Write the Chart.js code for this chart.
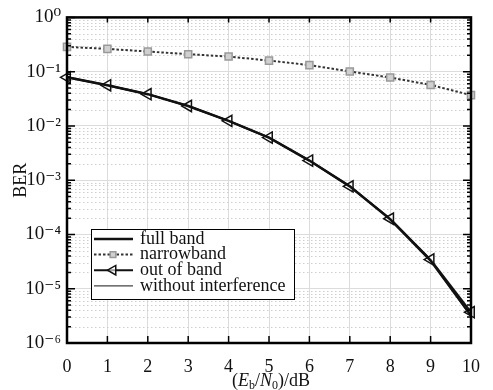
<!DOCTYPE html>
<html>
<head>
<meta charset="utf-8">
<script src="https://cdn.jsdelivr.net/npm/chart.js@4.4.1/dist/chart.umd.min.js"></script>
<style>
  html, body { margin: 0; padding: 0; background: #fff; }
  #wrap { width: 493px; height: 390px; }
</style>
</head>
<body>
<div id="wrap"><canvas id="ber"></canvas></div>
<script>
// data
var ebn0 = [0, 1, 2, 3, 4, 5, 6, 7, 8, 9, 10];
var fullBand = [0.079, 0.056, 0.0385, 0.0233, 0.0124, 0.0061, 0.0023, 0.00077, 0.00019, 3.3e-5, 3.2e-6];
var narrowband = [0.286, 0.263, 0.235, 0.21, 0.19, 0.16, 0.132, 0.101, 0.078, 0.057, 0.037];
var outOfBand = [0.0787, 0.056, 0.0385, 0.0233, 0.0124, 0.0061, 0.0023, 0.00077, 0.000195, 3.45e-5, 3.7e-6];
var noInterf = [0.079, 0.056, 0.0385, 0.0233, 0.0124, 0.0061, 0.0023, 0.00077, 0.00019, 3.3e-5, 3.1e-6];
var seriesNames = ['full band', 'narrowband', 'out of band', 'without interference'];
var decadeLabels = ['10\u207B\u2076', '10\u207B\u2075', '10\u207B\u2074', '10\u207B\u00B3', '10\u207B\u00B2', '10\u207B\u00B9', '10\u2070'];

var serif = "'Liberation Serif', 'DejaVu Serif', serif";

function pts(ys) {
  var out = [];
  for (var i = 0; i < ebn0.length; i++) out.push({ x: ebn0[i], y: ys[i] });
  return out;
}

function isDecade(v) {
  var l = Math.log10(v);
  return Math.abs(l - Math.round(l)) < 1e-6;
}

// minor dotted grid, inward ticks, frame
var framePlugin = {
  id: 'frame',
  beforeDatasetsDraw: function(chart) {
    var ctx = chart.ctx, a = chart.chartArea, y = chart.scales.y;
    ctx.save();
    ctx.strokeStyle = '#cfcfcf';
    ctx.lineWidth = 1;
    ctx.setLineDash([1.5, 2.5]);
    for (var e = -6; e < 0; e++) {
      for (var m = 2; m <= 9; m++) {
        var py = Math.round(y.getPixelForValue(m * Math.pow(10, e))) + 0.5;
        ctx.beginPath();
        ctx.moveTo(a.left, py);
        ctx.lineTo(a.right, py);
        ctx.stroke();
      }
    }
    ctx.restore();
  },
  afterDatasetsDraw: function(chart) {
    var ctx = chart.ctx, a = chart.chartArea, x = chart.scales.x, y = chart.scales.y;
    ctx.save();
    ctx.strokeStyle = '#000';
    ctx.lineWidth = 1.5;
    ctx.beginPath();
    for (var i = 1; i < 10; i++) {
      var px = x.getPixelForValue(i);
      ctx.moveTo(px, a.bottom); ctx.lineTo(px, a.bottom - 7);
      ctx.moveTo(px, a.top); ctx.lineTo(px, a.top + 5);
    }
    for (var e = -6; e <= 0; e++) {
      for (var m = 1; m <= 9; m++) {
        var v = m * Math.pow(10, e);
        if (v > 1) break;
        var py = y.getPixelForValue(v);
        var len = m === 1 ? 8 : 4;
        ctx.moveTo(a.left, py); ctx.lineTo(a.left + len, py);
        ctx.moveTo(a.right, py); ctx.lineTo(a.right - len, py);
      }
    }
    ctx.stroke();
    ctx.lineWidth = 2.5;
    ctx.strokeRect(a.left, a.top, a.right - a.left, a.bottom - a.top);
    ctx.restore();
  }
};

// legend box drawn inside the plot, like the figure
var legendPlugin = {
  id: 'boxLegend',
  afterDraw: function(chart) {
    var ctx = chart.ctx;
    var bx = 91, by = 229, bw = 203, bh = 70;
    ctx.save();
    ctx.fillStyle = '#fff';
    ctx.fillRect(bx, by, bw, bh);
    ctx.strokeStyle = '#000';
    ctx.lineWidth = 1;
    ctx.strokeRect(bx + 0.5, by + 0.5, bw, bh);
    ctx.font = '18px ' + serif;
    ctx.textBaseline = 'middle';
    chart.data.datasets.forEach(function(ds, i) {
      var cy = by + 10 + i * 15.6;
      ctx.strokeStyle = ds.borderColor;
      ctx.lineWidth = ds.borderWidth;
      ctx.setLineDash(ds.borderDash || []);
      ctx.beginPath();
      ctx.moveTo(bx + 3, cy); ctx.lineTo(bx + 42, cy);
      ctx.stroke();
      ctx.setLineDash([]);
      if (ds.pointRadius > 0) {
        ctx.fillStyle = ds.pointBackgroundColor;
        ctx.strokeStyle = ds.pointBorderColor;
        ctx.lineWidth = ds.pointBorderWidth;
        Chart.helpers.drawPoint(ctx, {
          pointStyle: ds.pointStyle, rotation: ds.pointRotation || 0,
          radius: ds.pointRadius - 1, borderWidth: ds.pointBorderWidth
        }, bx + 22, cy);
      }
      ctx.fillStyle = '#111';
      ctx.fillText(ds.label, bx + 49, cy);
    });
    ctx.restore();
  }
};

// x axis title with italic letters and subscripts
var xTitlePlugin = {
  id: 'xTitle',
  afterDraw: function(chart) {
    var ctx = chart.ctx, a = chart.chartArea;
    var parts = [
      ['(', 'normal', 18, 0], ['E', 'italic', 18, 0], ['b', 'normal', 12, 3],
      ['/', 'normal', 18, 0], ['N', 'italic', 18, 0], ['0', 'normal', 12, 3],
      [')/dB', 'normal', 18, 0]
    ];
    ctx.save();
    ctx.fillStyle = '#111';
    ctx.textBaseline = 'alphabetic';
    var w = 0;
    parts.forEach(function(p) {
      ctx.font = p[1] + ' ' + p[2] + 'px ' + serif;
      w += ctx.measureText(p[0]).width;
    });
    var x0 = (a.left + a.right) / 2 - w / 2 + 2;
    var base = 386;
    parts.forEach(function(p) {
      ctx.font = p[1] + ' ' + p[2] + 'px ' + serif;
      ctx.fillText(p[0], x0, base + p[3]);
      x0 += ctx.measureText(p[0]).width;
    });
    ctx.restore();
  }
};

var chart = new Chart(document.getElementById('ber'), {
  type: 'line',
  data: {
    datasets: [{
      label: seriesNames[0],
      data: pts(fullBand),
      borderColor: '#111',
      borderWidth: 2.5,
      pointRadius: 0,
      clip: false
    }, {
      label: seriesNames[1],
      data: pts(narrowband),
      borderColor: '#333',
      borderWidth: 2,
      borderDash: [2.5, 2],
      pointStyle: 'rect',
      pointRadius: 5,
      pointBackgroundColor: '#d0d0d0',
      pointBorderColor: '#999',
      pointBorderWidth: 1.5,
      clip: false
    }, {
      label: seriesNames[2],
      data: pts(outOfBand),
      borderColor: '#111',
      borderWidth: 2,
      pointStyle: 'triangle',
      pointRotation: -90,
      pointRadius: 6.5,
      pointBackgroundColor: 'rgba(255,255,255,0.6)',
      pointBorderColor: '#111',
      pointBorderWidth: 1.5,
      clip: false
    }, {
      label: seriesNames[3],
      data: pts(noInterf),
      borderColor: '#444',
      borderWidth: 1.3,
      pointRadius: 0,
      clip: false
    }]
  },
  options: {
    responsive: true,
    maintainAspectRatio: false,
    animation: false,
    layout: { padding: { top: 14, right: 9, left: 0, bottom: 0 } },
    plugins: { legend: { display: false }, tooltip: { enabled: false } },
    elements: { line: { tension: 0 } },
    scales: {
      x: {
        type: 'linear',
        min: 0, max: 10,
        afterFit: function(s) { s.height = 47; },
        ticks: {
          stepSize: 1,
          padding: 13,
          color: '#111',
          font: { family: serif, size: 18 }
        },
        grid: { color: '#dcdcdc', lineWidth: 1, drawTicks: false },
        border: { display: false }
      },
      y: {
        type: 'logarithmic',
        min: 1e-6, max: 1,
        afterFit: function(s) { s.width = 67; },
        afterBuildTicks: function(s) {
          s.ticks = s.ticks.filter(function(t) { return isDecade(t.value); });
        },
        ticks: {
          autoSkip: false,
          padding: 6,
          color: '#111',
          font: { family: serif, size: 19 },
          callback: function(v) {
            var e = Math.round(Math.log10(v));
            return decadeLabels[e + 6];
          }
        },
        title: {
          display: true,
          text: 'BER',
          color: '#111',
          padding: { top: 10, bottom: 0 },
          font: { family: serif, size: 18 }
        },
        grid: { color: '#dcdcdc', lineWidth: 1, drawTicks: false },
        border: { display: false }
      }
    }
  },
  plugins: [framePlugin, legendPlugin, xTitlePlugin]
});
</script>
</body>
</html>
